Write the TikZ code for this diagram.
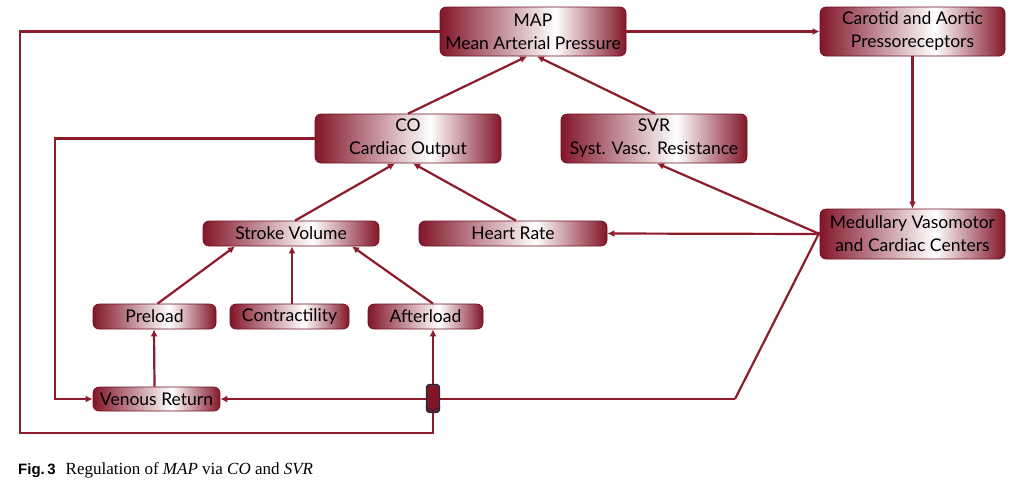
\documentclass[tikz,border=0pt]{standalone}
\usepackage{fontspec}
\setmainfont{Lato}
\newfontfamily\capsans{Liberation Sans}
\newfontfamily\capserif{Liberation Serif}
\usetikzlibrary{arrows.meta,shapes.geometric,calc}
\definecolor{dk}{HTML}{821628}
\definecolor{ln}{HTML}{8E1B2C}
\definecolor{navy}{HTML}{1F2A3A}
\pgfdeclarehorizontalshading{boxshade}{100bp}{color(0bp)=(dk); color(25bp)=(dk); color(56bp)=(white); color(75bp)=(dk); color(100bp)=(dk)}
\tikzset{
  box/.style={rectangle, rounded corners=6pt, shading=boxshade, draw=dk!85!black, line width=0.7pt,
    align=center, inner sep=0pt, font=\fontsize{17.5}{23}\selectfont, text=black},
  conn/.style={draw=ln, line width=2.2pt},
  arr/.style={conn, -{Latex[length=7pt,width=7pt]}},
  valvestyle/.style={rectangle, rounded corners=3pt, minimum width=13pt, minimum height=28pt,
    inner sep=0pt, fill=dk, draw=navy, line width=1.3pt}
}
\begin{document}
\begin{tikzpicture}[x=1pt,y=-1pt]
\fill[white] (0,0) rectangle (1024,483);
\useasboundingbox (0,0) rectangle (1024,483);

\node[box, minimum width=186pt, minimum height=49pt] (map) at (533,31.5) {MAP\\Mean Arterial Pressure};
\node[box, minimum width=185pt, minimum height=49pt] (car) at (912.5,31.5) {Carotid and Aortic\\Pressoreceptors};
\node[box, minimum width=186pt, minimum height=49pt] (co) at (408,138.5) {CO\\Cardiac Output};
\node[box, minimum width=186pt, minimum height=49pt] (svr) at (654,138.5) {SVR\\Syst. Vasc. Resistance};
\node[box, minimum width=185pt, minimum height=50pt] (med) at (912.5,234) {Medullary Vasomotor\\and Cardiac Centers};
\node[box, minimum width=176pt, minimum height=25pt] (sv) at (291,233.5) {Stroke Volume};
\node[box, minimum width=188pt, minimum height=25pt] (hr) at (513,233.5) {Heart Rate};
\node[box, minimum width=123pt, minimum height=25pt] (pre) at (154.5,316.5) {Preload};
\node[box, minimum width=119pt, minimum height=25pt] (con) at (289.5,316.5) {Contractility};
\node[box, minimum width=115pt, minimum height=25pt] (aft) at (425.5,316.5) {Afterload};
\node[box, minimum width=127pt, minimum height=24pt] (vr) at (156.5,399) {Venous Return};

\coordinate (lb) at (20,433);
\coordinate (cl) at (55,399);
\coordinate (mk) at (735,399);

% MAP loop to the valve
\draw[conn] (map.west) -| (lb) -| (433,412);
% med to venous return through valve
\draw[conn] ([yshift=2pt]med.west) -- (mk);
\draw[arr] (mk) -- (vr.east);
% valve
\node[valvestyle] (valve) at (433,398.5) {};
\draw[navy, line width=0.8pt] ([yshift=6pt]valve.south west) .. controls ([yshift=2pt]valve.south) .. ([yshift=6pt]valve.south east);
\draw[arr] (valve.north) -- ([xshift=7.5pt]aft.south);

\draw[arr] (map.east) -- (car.west);
\draw[arr] (car.south) -- (med.north);
\draw[arr] (med.west) -- (hr.east);
\draw[arr] (med.west) -- ([xshift=3pt]svr.south);

\draw[arr] (co.west) -| (cl) -- (vr.west);
\draw[arr] ([xshift=-2pt]vr.north) -- ([xshift=-0.5pt]pre.south);

\draw[arr] ([xshift=3pt]pre.north) -- ([xshift=-56pt]sv.south);
\draw[arr] ([xshift=2.5pt]con.north) -- ([xshift=1pt]sv.south);
\draw[arr] ([xshift=7.5pt]aft.north) -- ([xshift=61pt]sv.south);
\draw[arr] ([xshift=4pt]sv.north) -- ([xshift=-13pt]co.south);
\draw[arr] ([xshift=3pt]hr.north) -- ([xshift=5pt]co.south);
\draw[arr] (co.north) -- ([xshift=-6pt]map.south);
\draw[arr] ([xshift=1pt]svr.north) -- ([xshift=4pt]map.south);

\node[anchor=base west, inner sep=0pt] (cap) at (18,474)
  {{\capsans\bfseries\fontsize{15}{17}\selectfont Fig.\,3}\hspace{10pt}{\capserif\fontsize{17}{19}\selectfont Regulation of \textit{MAP} via \textit{CO} and \textit{SVR}}};
\end{tikzpicture}
\end{document}
